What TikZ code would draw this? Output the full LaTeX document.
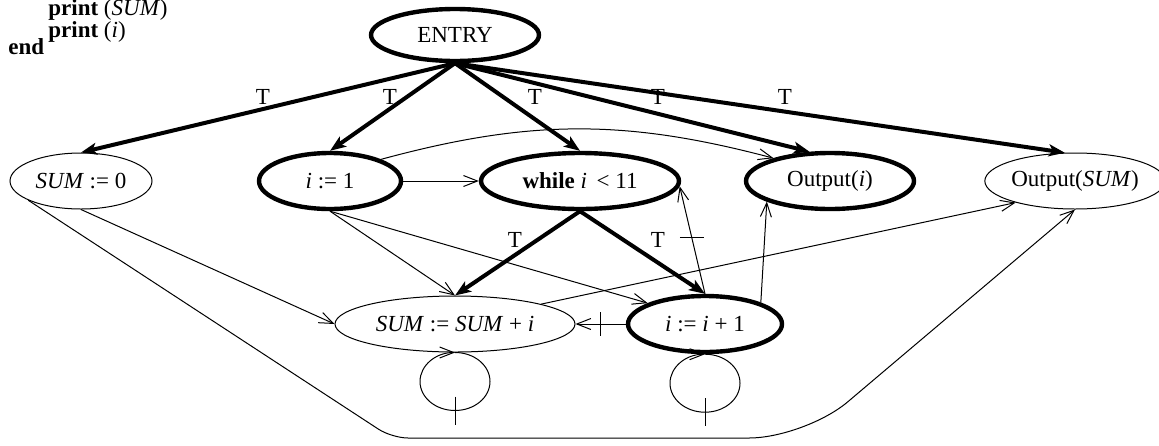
\documentclass[tikz,border=0pt]{standalone}
\usepackage{fontspec}
\setmainfont{Liberation Serif}
\usetikzlibrary{shapes.geometric,arrows.meta}
\begin{document}
\begin{tikzpicture}[x=0.5pt,y=-0.5pt,
  font=\fontsize{11.5}{13}\selectfont,
  box/.style={ellipse, draw, line width=0.5pt, inner sep=0pt, minimum height=28pt},
  thickbox/.style={box, line width=2.2pt},
  thinarrow/.style={line width=0.5pt, -{Straight Barb[length=7pt,width=5.5pt]}},
  thickarrow/.style={line width=2pt, -{Stealth[length=8pt,width=6pt,inset=2pt]}},
  lbl/.style={inner sep=0pt},
  tickmark/.style={line width=0.5pt},
  codetext/.style={anchor=base west, inner sep=0pt}]
\useasboundingbox (0,0) rectangle (1159,445);

% code text
\node[codetext] (p1) at (48,15) {\textbf{print} (\textit{SUM})};
\node[codetext] (p2) at (48,37) {\textbf{print} (\textit{i})};
\node[codetext] (p3) at (8,54) {\textbf{end}};

% nodes
\node[thickbox, minimum width=84pt, minimum height=26pt] (entry) at (455,35) {ENTRY};
\node[box, minimum width=71pt] (sum0) at (81,181) {\textit{SUM} := 0};
\node[thickbox, minimum width=71pt] (i1) at (330,181) {\textit{i} := 1};
\node[thickbox, minimum width=99pt] (wh) at (580,181) {\textbf{while} \textit{i}\, < 11};
\node[thickbox, minimum width=84pt] (outi) at (830,181) {Output(\textit{i})};
\node[box, minimum width=82pt] (outsum) at (1075,181) {Output(\textit{SUM})};
\node[box, minimum width=120pt] (sumi) at (455,324) {\textit{SUM} := \textit{SUM} + \textit{i}};
\node[thickbox, minimum width=77pt] (ii) at (705,324) {\textit{i} := \textit{i} + 1};

% thick T edges
\draw[thickarrow] (entry.south) -- (sum0.north);
\draw[thickarrow] (entry.south) -- (i1.north);
\draw[thickarrow] (entry.south) -- (wh.north);
\draw[thickarrow] (entry.south) -- (outi.125);
\draw[thickarrow] (entry.south) -- (outsum.110);
\draw[thickarrow] (wh.south) -- (sumi.north);
\draw[thickarrow] (wh.south) -- (ii.north);

\node[lbl] (ta) at (263,97) {T};
\node[lbl] (tb) at (390,97) {T};
\node[lbl] (tc) at (535,97) {T};
\node[lbl] (td) at (658,97) {T};
\node[lbl] (te) at (785,97) {T};
\node[lbl] (tf) at (515,240) {T};
\node[lbl] (tg) at (658,240) {T};

% thin edges
\draw[thinarrow] (i1.east) -- (wh.west);
\draw[thinarrow] (i1.23) to[bend left=15] (outi.158);
\draw[thinarrow] (i1.south) -- (sumi.north);
\draw[thinarrow] (i1.south) -- (ii.160);
\draw[thinarrow] (sum0.south) -- (sumi.west);
\draw[thinarrow] (sum0.200) [rounded corners=8pt] -- (392,438) [rounded corners=28pt] -- (805,438) -- (outsum.south);
\draw[thinarrow] (sumi.13) -- (outsum.200);
\draw[thinarrow] (ii.21) -- (outi.198);
\draw[thinarrow] (ii.west) -- coordinate[pos=0.5] (t1) (sumi.east);
\draw[tickmark] (t1) ++(0,-12) -- ++(0,24);
\draw[thinarrow] (ii.north) -- coordinate[pos=0.52] (t2) (wh.-3);
\draw[tickmark] (t2) ++(-12,0) -- ++(24,0);

% self loops
\draw[thinarrow] (sumi.south) arc[start angle=-90, end angle=270, x radius=35, y radius=29];
\draw[tickmark] (sumi.south) ++(0,44) -- ++(0,28);
\draw[thinarrow] (ii.south) arc[start angle=-90, end angle=270, x radius=35, y radius=29];
\draw[tickmark] (ii.south) ++(0,44) -- ++(0,28);
\end{tikzpicture}
\end{document}
